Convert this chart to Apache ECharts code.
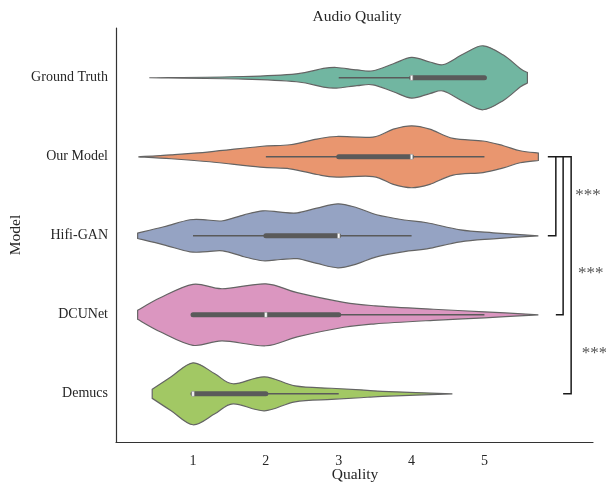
<!DOCTYPE html>
<html><head><meta charset="utf-8">
<script src="https://cdn.jsdelivr.net/npm/echarts@6/dist/echarts.min.js"></script>
<style>html,body{margin:0;padding:0;background:#fff}#c{width:606px;height:482px}</style>
</head><body><div id="c"></div>
<script>
// ---- data ----
const categories = ['Ground Truth', 'Our Model', 'Hifi-GAN', 'DCUNet', 'Demucs'];
const qualityTicks = [1, 2, 3, 4, 5];

// violin outlines: quality positions and half-widths (in category units)
const groundTruthQ = [0.40, 1.69, 2.42, 2.79, 2.97, 3.25, 3.47, 3.75, 4.00, 4.25, 4.44, 4.71, 4.98, 5.26, 5.49, 5.59];
const groundTruthW = [0.000, 0.016, 0.050, 0.118, 0.130, 0.100, 0.089, 0.177, 0.257, 0.200, 0.168, 0.300, 0.405, 0.287, 0.118, 0.067];
const ourModelQ = [0.25, 0.70, 1.23, 1.92, 2.33, 2.70, 2.97, 3.47, 3.75, 4.00, 4.25, 4.57, 4.98, 5.26, 5.49, 5.74];
const ourModelW = [0.000, 0.025, 0.063, 0.130, 0.152, 0.224, 0.257, 0.250, 0.350, 0.392, 0.350, 0.232, 0.200, 0.140, 0.076, 0.047];
const hifiGanQ = [0.24, 0.60, 0.96, 1.20, 1.41, 1.70, 1.96, 2.20, 2.43, 2.70, 2.99, 3.25, 3.52, 3.90, 4.21, 4.67, 5.12, 5.74];
const hifiGanW = [0.034, 0.114, 0.203, 0.200, 0.190, 0.265, 0.316, 0.300, 0.290, 0.350, 0.405, 0.355, 0.266, 0.200, 0.165, 0.076, 0.038, 0.000];
const dcuNetQ = [0.24, 0.55, 1.00, 1.40, 2.00, 2.43, 3.07, 3.50, 4.30, 5.00, 5.74];
const dcuNetW = [0.057, 0.215, 0.386, 0.330, 0.392, 0.280, 0.158, 0.114, 0.070, 0.038, 0.000];
const demucsQ = [0.44, 0.70, 1.00, 1.30, 1.55, 1.98, 2.40, 2.90, 3.30, 3.60, 4.56];
const demucsW = [0.057, 0.215, 0.392, 0.253, 0.127, 0.215, 0.101, 0.070, 0.050, 0.032, 0.000];

// box statistics per model
const whiskerLow  = [3, 2, 1, 1, 1];
const boxQ1       = [4, 3, 2, 1, 1];
const medians     = [4, 4, 3, 2, 1];
const boxQ3       = [5, 4, 3, 3, 2];
const whiskerHigh = [5, 5, 4, 5, 3];

// significance annotations: [from, to] category indices
const sigPairs  = [[1, 2], [1, 3], [1, 4]];
const sigLabels = ['***', '***', '***'];

// ---- rendering ----
const violinQ = [groundTruthQ, ourModelQ, hifiGanQ, dcuNetQ, demucsQ];
const violinW = [groundTruthW, ourModelW, hifiGanW, dcuNetW, demucsW];
const colors = ['#71b6a1', '#e9966f', '#95a3c3', '#db96c0', '#a2c864'];
const edge = '#646464';
const boxColor = '#5a5a5a';
const FONT = '"Liberation Serif", "DejaVu Serif", serif';

function smoothSeg(pts) {
  let d = '';
  for (let i = 0; i < pts.length - 1; i++) {
    const p0 = pts[Math.max(0, i - 1)], p1 = pts[i], p2 = pts[i + 1], p3 = pts[Math.min(pts.length - 1, i + 2)];
    const c1 = [p1[0] + (p2[0] - p0[0]) / 6, p1[1] + (p2[1] - p0[1]) / 6];
    const c2 = [p2[0] - (p3[0] - p1[0]) / 6, p2[1] - (p3[1] - p1[1]) / 6];
    d += ' C' + c1[0] + ' ' + c1[1] + ' ' + c2[0] + ' ' + c2[1] + ' ' + p2[0] + ' ' + p2[1];
  }
  return d;
}

function renderViolin(params, api) {
  const idx = params.dataIndex;
  const q = violinQ[idx], w = violinW[idx];
  const top = q.map((x, j) => api.coord([x, idx - w[j]]));
  const bot = q.map((x, j) => api.coord([x, idx + w[j]])).reverse();
  let d = 'M' + top[0][0] + ' ' + top[0][1] + smoothSeg(top);
  d += ' L' + bot[0][0] + ' ' + bot[0][1] + smoothSeg(bot) + ' Z';
  return {
    type: 'path',
    shape: { pathData: d },
    style: { fill: colors[idx], stroke: edge, lineWidth: 1.2 }
  };
}

function renderBox(params, api) {
  const idx = params.dataIndex;
  const lo = api.coord([whiskerLow[idx], idx]);
  const hi = api.coord([whiskerHigh[idx], idx]);
  const a = api.coord([boxQ1[idx], idx]);
  const b = api.coord([boxQ3[idx], idx]);
  const m = api.coord([medians[idx], idx]);
  return {
    type: 'group',
    children: [
      { type: 'line', shape: { x1: lo[0], y1: lo[1], x2: hi[0], y2: hi[1] }, style: { stroke: boxColor, lineWidth: 1.5 } },
      { type: 'line', shape: { x1: a[0], y1: a[1], x2: b[0], y2: b[1] }, style: { stroke: boxColor, lineWidth: 5, lineCap: 'round' } },
      { type: 'rect', shape: { x: m[0] - 1.2, y: m[1] - 2.5, width: 2.4, height: 5 }, style: { fill: '#ffffff', stroke: '#9a9a9a', lineWidth: 0.6 } }
    ]
  };
}

const bracketRight = [5.98, 6.08, 6.19];
const bracketLeft = [5.87, 5.98, 6.08];
const starPos = [[6.42, 1.49], [6.46, 2.48], [6.51, 3.49]];

function renderSig(params, api) {
  const i = params.dataIndex;
  const pair = sigPairs[i];
  const t1 = api.coord([bracketLeft[i], pair[0]]);
  const t2 = api.coord([bracketRight[i], pair[0]]);
  const b2 = api.coord([bracketRight[i], pair[1]]);
  const b1 = api.coord([bracketLeft[i], pair[1]]);
  const s = api.coord(starPos[i]);
  return {
    type: 'group',
    children: [
      { type: 'polyline', shape: { points: [t1, t2, b2, b1] }, style: { stroke: '#1a1a1a', lineWidth: 1.5, fill: null } },
      { type: 'text', style: { text: sigLabels[i], x: s[0], y: s[1], align: 'center', verticalAlign: 'middle', font: '17px ' + FONT, fill: '#555555' } }
    ]
  };
}

const chart = echarts.init(document.getElementById('c'), null, { renderer: 'canvas' });
chart.setOption({
  backgroundColor: '#ffffff',
  animation: false,
  grid: { left: 116, right: 13, top: 28, bottom: 40 },
  xAxis: {
    type: 'value', min: -0.057, max: 6.49,
    splitLine: { show: false },
    axisTick: { show: false },
    axisLine: { show: true, onZero: false, lineStyle: { color: '#333', width: 1.2 } },
    axisLabel: { customValues: qualityTicks, margin: 12, fontFamily: FONT, fontSize: 14, color: '#262626' }
  },
  yAxis: {
    type: 'value', min: -0.63, max: 4.61, inverse: true,
    splitLine: { show: false },
    axisTick: { show: false },
    axisLine: { show: true, onZero: false, lineStyle: { color: '#333', width: 1.2 } },
    axisLabel: {
      customValues: [0, 1, 2, 3, 4], margin: 8, fontFamily: FONT, fontSize: 14, color: '#262626',
      formatter: v => categories[Math.round(v)]
    }
  },
  graphic: [
    { type: 'text', x: 357, y: 17, style: { text: 'Audio Quality', align: 'center', verticalAlign: 'middle', font: '15.5px ' + FONT, fill: '#262626' } },
    { type: 'text', x: 355, y: 475, style: { text: 'Quality', align: 'center', verticalAlign: 'middle', font: '15.5px ' + FONT, fill: '#262626' } },
    { type: 'text', x: 16, y: 235, rotation: Math.PI / 2, style: { text: 'Model', align: 'center', verticalAlign: 'middle', font: '15.5px ' + FONT, fill: '#262626' } }
  ],
  series: [
    { type: 'custom', renderItem: renderViolin, data: categories.map((c, i) => [i]), clip: false, z: 2 },
    { type: 'custom', renderItem: renderBox, data: categories.map((c, i) => [i]), clip: false, z: 3 },
    { type: 'custom', renderItem: renderSig, data: sigPairs.map((p, i) => [i]), clip: false, z: 4 }
  ]
});
</script></body></html>
